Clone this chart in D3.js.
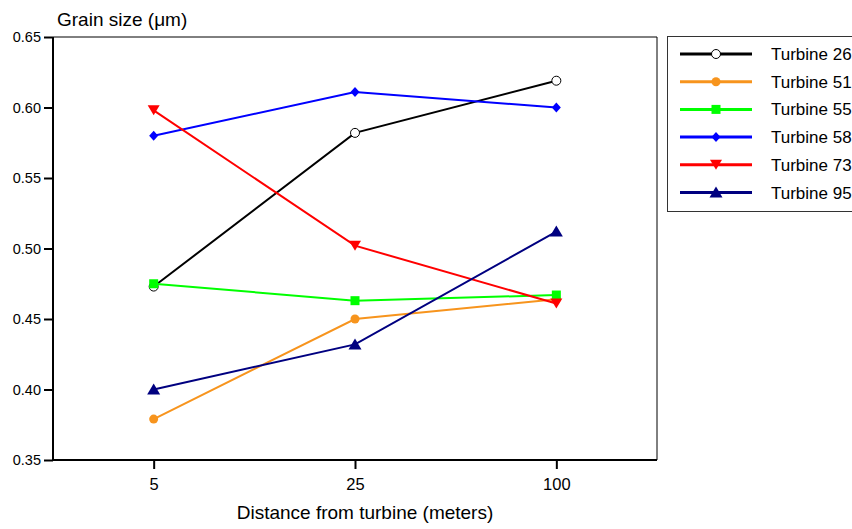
<!DOCTYPE html>
<html>
<head>
<meta charset="utf-8">
<script src="https://cdn.jsdelivr.net/npm/d3@7"></script>
<style>
  body { margin: 0; background: #fff; }
  text { font-family: "Liberation Sans", Arial, sans-serif; fill: #000; }
</style>
</head>
<body>
<script>
var distances = ["5", "25", "100"];
var yTicks = [0.35, 0.40, 0.45, 0.50, 0.55, 0.60, 0.65];

var t26 = [0.473, 0.582, 0.619];
var t51 = [0.379, 0.450, 0.464];
var t55 = [0.475, 0.463, 0.467];
var t58 = [0.580, 0.611, 0.600];
var t73 = [0.598, 0.502, 0.461];
var t95 = [0.400, 0.432, 0.512];

var series = [
  {name: "Turbine 26", values: t26, color: "#000000", symbol: "circle", open: true},
  {name: "Turbine 51", values: t51, color: "#f7941d", symbol: "circle"},
  {name: "Turbine 55", values: t55, color: "#00ff00", symbol: "square"},
  {name: "Turbine 58", values: t58, color: "#0000ff", symbol: "diamond"},
  {name: "Turbine 73", values: t73, color: "#ff0000", symbol: "down"},
  {name: "Turbine 95", values: t95, color: "#000080", symbol: "up"}
];

var W = 852, H = 529;
var mLeft = 53, mRight = 657, mTop = 37, mBottom = 460;

var svg = d3.select("body").append("svg")
  .attr("width", W).attr("height", H);

var x = d3.scalePoint().domain(distances).range([mLeft, mRight]).padding(0.5);
var y = d3.scaleLinear().domain([0.35, 0.65]).range([mBottom, mTop]);

// frame top / right
svg.append("path")
  .attr("d", "M" + mLeft + "," + mTop + "H" + mRight + "V" + mBottom)
  .attr("fill", "none").attr("stroke", "#000").attr("stroke-width", 1);

// axes
var yAxis = svg.append("g").attr("transform", "translate(" + mLeft + ",0)")
  .call(d3.axisLeft(y).tickValues(yTicks).tickFormat(d3.format(".2f")).tickSize(9).tickSizeOuter(0).tickPadding(3));
var xAxis = svg.append("g").attr("transform", "translate(0," + mBottom + ")")
  .call(d3.axisBottom(x).tickSize(9).tickSizeOuter(0).tickPadding(9));

[yAxis, xAxis].forEach(function (g) {
  g.attr("font-family", null).attr("font-size", null);
  g.select(".domain").attr("stroke-width", 2);
  g.selectAll(".tick line").attr("stroke-width", 2);
});
yAxis.selectAll("text").style("font-size", "14.5px");
xAxis.selectAll("text").style("font-size", "16.5px");
xAxis.select(".domain").attr("d", "M" + (mLeft - 1) + ",0H" + mRight);
yAxis.select(".domain").attr("d", "M0," + mTop + "V" + (mBottom + 1));

svg.append("text").attr("x", 57).attr("y", 26)
  .style("font-size", "19px").text("Grain size (\u03bcm)");
svg.append("text").attr("x", 365).attr("y", 519).attr("text-anchor", "middle")
  .style("font-size", "19px").text("Distance from turbine (meters)");

function drawMarker(g, s, cx, cy) {
  if (s.symbol === "circle") {
    g.append("circle").attr("cx", cx).attr("cy", cy).attr("r", 4.5)
      .attr("fill", s.open ? "#fff" : s.color)
      .attr("stroke", s.open ? s.color : "none").attr("stroke-width", 1);
  } else if (s.symbol === "square") {
    g.append("rect").attr("x", cx - 4.5).attr("y", cy - 4.5)
      .attr("width", 9).attr("height", 9).attr("fill", s.color);
  } else if (s.symbol === "diamond") {
    g.append("path").attr("d", "M" + cx + "," + (cy - 5) + "L" + (cx + 4.5) + "," + cy +
      "L" + cx + "," + (cy + 5) + "L" + (cx - 4.5) + "," + cy + "Z").attr("fill", s.color);
  } else if (s.symbol === "down") {
    g.append("path").attr("d", "M" + (cx - 6) + "," + (cy - 5) + "L" + (cx + 6) + "," + (cy - 5) +
      "L" + cx + "," + (cy + 5) + "Z").attr("fill", s.color);
  } else if (s.symbol === "up") {
    g.append("path").attr("d", "M" + (cx - 6.5) + "," + (cy + 5) + "L" + (cx + 6.5) + "," + (cy + 5) +
      "L" + cx + "," + (cy - 6) + "Z").attr("fill", s.color);
  }
}

var line = d3.line().x(function (d, i) { return x(distances[i]); }).y(function (d) { return y(d); });

series.forEach(function (s) {
  var g = svg.append("g");
  g.append("path").attr("d", line(s.values)).attr("fill", "none")
    .attr("stroke", s.color).attr("stroke-width", 2);
  s.values.forEach(function (v, i) { drawMarker(g, s, x(distances[i]), y(v)); });
});

// legend
var leg = svg.append("g");
leg.append("rect").attr("x", 667.5).attr("y", 36.5).attr("width", 200).attr("height", 175)
  .attr("fill", "#fff").attr("stroke", "#333").attr("stroke-width", 1);
series.forEach(function (s, i) {
  var ly = 54 + i * 27.7;
  leg.append("line").attr("x1", 680).attr("x2", 752).attr("y1", ly).attr("y2", ly)
    .attr("stroke", s.color).attr("stroke-width", 3);
  drawMarker(leg, s, 716, ly);
  leg.append("text").attr("x", 771).attr("y", ly + 6).style("font-size", "17px").text(s.name);
});
</script>
</body>
</html>
